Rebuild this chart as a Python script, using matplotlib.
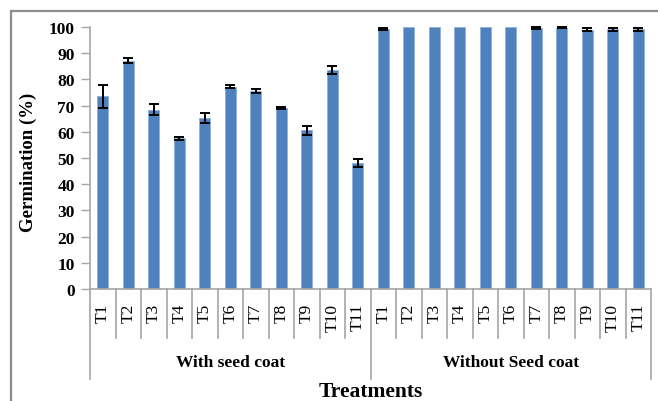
import matplotlib
matplotlib.use("Agg")
import matplotlib.pyplot as plt
from matplotlib.patches import Rectangle
import numpy as np

# Germination data (%) with standard errors
treatments = ["T1", "T2", "T3", "T4", "T5", "T6", "T7", "T8", "T9", "T10", "T11"]
groups = ["With seed coat", "Without Seed coat"]
with_coat = [73.5, 87.2, 68.5, 57.5, 65.2, 77.2, 75.5, 69.0, 60.5, 83.6, 48.2]
with_coat_err = [4.5, 1.0, 2.0, 0.5, 2.0, 0.5, 0.7, 0.4, 1.7, 1.5, 1.5]
without_coat = [99.3, 100, 100, 100, 100, 100, 99.7, 99.8, 98.9, 99.2, 99.2]
without_coat_err = [0.5, 0, 0, 0, 0, 0, 0.3, 0.2, 0.6, 0.6, 0.6]

values = np.array(with_coat + without_coat)
errors = np.array(with_coat_err + without_coat_err)
labels = treatments + treatments
x = np.arange(len(values))

W, H = 658, 402
fig = plt.figure(figsize=(W / 100, H / 100), dpi=100)
ax = fig.add_axes([90 / W, 112 / H, (651 - 90) / W, 262 / H])

serif = ["Liberation Serif", "DejaVu Serif"]
grey = "#a6a6a6"

ax.bar(x, values, width=0.42, color="#4f81bd", edgecolor="#8eb0da",
       linewidth=0.6, zorder=2)
has_err = errors > 0
ax.errorbar(x[has_err], values[has_err], yerr=errors[has_err], fmt="none",
            ecolor="black", elinewidth=1.4, capsize=3.5, capthick=1.4,
            zorder=3, clip_on=False)

ax.set_xlim(-0.5, len(values) - 0.5)
ax.set_ylim(0, 100)
ax.set_yticks(np.arange(0, 101, 10))
ax.tick_params(axis="y", direction="out", length=6.5, width=1, color=grey, pad=4.5)
for lab in ax.get_yticklabels():
    lab.set_fontfamily(serif)
    lab.set_fontweight("bold")
    lab.set_fontsize(12.5)

ax.set_xticks(x, labels, rotation=90)
ax.tick_params(axis="x", length=0, pad=10)
for lab in ax.get_xticklabels():
    lab.set_fontfamily(serif)
    lab.set_fontsize(12.5)

for side in ("top", "right"):
    ax.spines[side].set_visible(False)
for side in ("left", "bottom"):
    ax.spines[side].set_color(grey)
    ax.spines[side].set_linewidth(1.2)

# category separators below the axis
tr = ax.get_xaxis_transform()
n = len(values)
for k in range(n + 1):
    xb = k - 0.5
    ybot = -0.344 if k in (0, len(treatments), n) else -0.187
    ax.plot([xb, xb], [0, ybot], color=grey, lw=1.2, transform=tr, clip_on=False)

# group labels
for g, name in enumerate(groups):
    cx = g * len(treatments) + (len(treatments) - 1) / 2
    ax.text(cx, -0.279, name, transform=tr, ha="center", va="center",
            fontfamily=serif, fontweight="bold", fontsize=12.5)

ax.text(0.5, -0.389, "Treatments", transform=ax.transAxes, ha="center",
        va="center", fontfamily=serif, fontweight="bold", fontsize=15.5)
fig.text(28 / W, 1 - 162 / H, "Germination (%)", rotation=90, ha="center",
         va="center", fontfamily=serif, fontweight="bold", fontsize=13.5)

# outer chart frame
fig.patches.append(Rectangle((11 / W, -0.1), 1.2, 1 - 12 / H + 0.1,
                             transform=fig.transFigure, fill=False,
                             edgecolor="#8c8c8c", linewidth=1.6))

fig.savefig("out.png", dpi=100)
